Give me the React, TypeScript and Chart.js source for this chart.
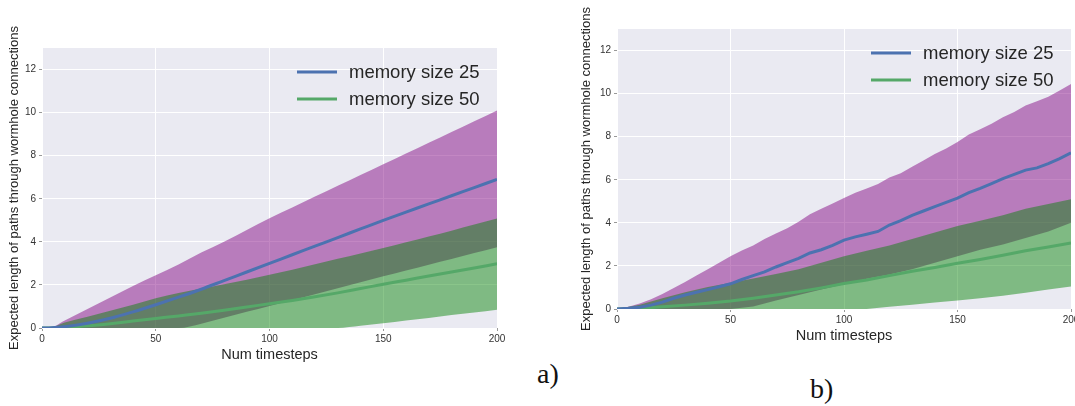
import React, { useEffect, useRef } from 'react';
import { Chart, registerables } from 'chart.js';

Chart.register(...registerables);

// ---------- shared labels ----------
const seriesNames = ['memory size 25', 'memory size 50'];
const xTitle = 'Num timesteps';
const yTitle = 'Expected length of paths through wormhole connections';
const panelLabels = ['a)', 'b)'];

// ---------- panel a ----------
const xA = [0, 3, 10, 20, 30, 40, 50, 60, 70, 80, 90, 100, 110, 120, 130, 140, 150, 160, 170, 180, 190, 200];
const a25Mean = [0, 0, 0.06, 0.22, 0.45, 0.75, 1.08, 1.43, 1.8, 2.2, 2.6, 3.0, 3.4, 3.8, 4.2, 4.6, 5.0, 5.38, 5.76, 6.14, 6.52, 6.9];
const a25Upper = [0, 0, 0.35, 0.88, 1.42, 1.95, 2.45, 2.95, 3.5, 4.0, 4.55, 5.1, 5.6, 6.1, 6.6, 7.1, 7.6, 8.1, 8.6, 9.1, 9.6, 10.1];
const a25Lower = [0, 0, 0, 0, 0, 0, 0, 0, 0.2, 0.48, 0.75, 1.02, 1.3, 1.57, 1.85, 2.12, 2.4, 2.67, 2.94, 3.2, 3.48, 3.75];
const a50Mean = [0, 0, 0.03, 0.1, 0.2, 0.32, 0.44, 0.56, 0.68, 0.82, 0.97, 1.13, 1.28, 1.45, 1.63, 1.83, 2.03, 2.22, 2.41, 2.6, 2.79, 2.98];
const a50Upper = [0, 0, 0.25, 0.52, 0.8, 1.08, 1.38, 1.62, 1.83, 2.03, 2.24, 2.47, 2.71, 2.96, 3.21, 3.46, 3.71, 3.98, 4.25, 4.52, 4.8, 5.08];
const a50Lower = [0, 0, 0, 0, 0, 0, 0, 0, 0, 0, 0, 0, 0, 0, 0, 0.1, 0.22, 0.35, 0.47, 0.6, 0.72, 0.85];

// ---------- panel b ----------
const xB5 = [0, 5, 10, 15, 20, 25, 30, 35, 40, 45, 50, 55, 60, 65, 70, 75, 80, 85, 90, 95, 100, 105, 110, 115, 120, 125, 130, 135, 140, 145, 150, 155, 160, 165, 170, 175, 180, 185, 190, 195, 200];
const xB10 = [0, 10, 20, 30, 40, 50, 60, 70, 80, 90, 100, 110, 120, 130, 140, 150, 160, 170, 180, 190, 200];
const b25Mean = [0, 0.03, 0.08, 0.18, 0.32, 0.5, 0.65, 0.78, 0.9, 1.03, 1.17, 1.37, 1.55, 1.72, 1.95, 2.15, 2.35, 2.6, 2.75, 2.95, 3.2, 3.35, 3.47, 3.6, 3.9, 4.1, 4.35, 4.55, 4.75, 4.95, 5.15, 5.4, 5.6, 5.82, 6.05, 6.25, 6.45, 6.55, 6.75, 6.98, 7.25];
const b25Upper = [0, 0.1, 0.25, 0.45, 0.7, 0.98, 1.25, 1.55, 1.85, 2.15, 2.45, 2.72, 2.95, 3.25, 3.5, 3.75, 4.05, 4.4, 4.65, 4.9, 5.15, 5.4, 5.6, 5.8, 6.1, 6.3, 6.6, 6.9, 7.2, 7.45, 7.75, 8.1, 8.35, 8.6, 8.9, 9.15, 9.45, 9.65, 9.85, 10.15, 10.45];
const b25Lower = [0, 0, 0, 0, 0, 0, 0.12, 0.4, 0.65, 0.9, 1.15, 1.4, 1.6, 1.85, 2.15, 2.45, 2.75, 3.0, 3.3, 3.6, 4.0];
const b50Mean = [0, 0.03, 0.1, 0.18, 0.27, 0.37, 0.5, 0.65, 0.8, 0.98, 1.18, 1.35, 1.55, 1.75, 1.93, 2.12, 2.3, 2.5, 2.7, 2.88, 3.07];
const b50Upper = [0, 0.2, 0.5, 0.78, 1.02, 1.22, 1.42, 1.62, 1.85, 2.15, 2.45, 2.7, 2.95, 3.25, 3.55, 3.85, 4.1, 4.35, 4.65, 4.88, 5.1];
const b50Lower = [0, 0, 0, 0, 0, 0, 0, 0, 0, 0, 0, 0, 0.1, 0.2, 0.3, 0.4, 0.5, 0.62, 0.75, 0.9, 1.05];

// ---------- styles ----------
const BLUE = '#4C72B0';
const GREEN = '#55A868';
const PURPLE_FILL = 'rgba(128,0,128,0.47)';
const GREEN_FILL = 'rgba(0,128,0,0.46)';
const BG = '#EAEAF2';
const FONT = "'Liberation Sans', Arial, sans-serif";

const pts = (xs: number[], ys: number[]) => xs.map((x, i) => ({ x, y: ys[i] }));

type P = { x: number; y: number }[];
type PanelProps = {
  left: number;
  width: number;
  height: number;
  padTop: number;
  padRight: number;
  yAxisWidth: number;
  smooth: boolean;
  m25: P;
  u25: P;
  l25: P;
  m50: P;
  u50: P;
  l50: P;
};

const bgPlugin = {
  id: 'bgPlugin',
  beforeDraw(chart: any) {
    const { ctx, chartArea } = chart;
    ctx.save();
    ctx.fillStyle = BG;
    ctx.fillRect(chartArea.left, chartArea.top, chartArea.right - chartArea.left, chartArea.bottom - chartArea.top);
    ctx.restore();
  },
};

const legendPlugin = {
  id: 'insideLegend',
  afterDatasetsDraw(chart: any) {
    const { ctx, chartArea } = chart;
    const colors = [BLUE, GREEN];
    ctx.save();
    seriesNames.forEach((name, i) => {
      const y = chartArea.top + 24 + i * 27;
      ctx.strokeStyle = colors[i];
      ctx.lineWidth = 3;
      ctx.beginPath();
      ctx.moveTo(chartArea.right - 200, y);
      ctx.lineTo(chartArea.right - 160, y);
      ctx.stroke();
      ctx.fillStyle = '#262626';
      ctx.font = `18.5px ${FONT}`;
      ctx.textBaseline = 'middle';
      ctx.textAlign = 'left';
      ctx.fillText(name, chartArea.right - 148, y + 1);
    });
    ctx.restore();
  },
};

function Panel(p: PanelProps) {
  const ref = useRef<HTMLCanvasElement | null>(null);
  useEffect(() => {
    if (!ref.current) return;
    const interp = p.smooth ? 'monotone' : 'default';
    const lineDs = (label: string, data: any, color: string) => ({
      label,
      data,
      borderColor: color,
      borderWidth: 3,
      pointRadius: 0,
      fill: false,
      cubicInterpolationMode: interp,
      tension: 0,
    });
    const bandDs = (data: any, fill: any, color: string) => ({
      label: '',
      data,
      borderWidth: 0,
      borderColor: 'rgba(0,0,0,0)',
      backgroundColor: color,
      pointRadius: 0,
      fill,
      cubicInterpolationMode: interp,
      tension: 0,
    });
    const chart = new Chart(ref.current, {
      type: 'line',
      data: {
        datasets: [
          lineDs(seriesNames[0], p.m25, BLUE),
          lineDs(seriesNames[1], p.m50, GREEN),
          bandDs(p.u50, '+1', GREEN_FILL),
          bandDs(p.l50, false, GREEN_FILL),
          bandDs(p.u25, '+1', PURPLE_FILL),
          bandDs(p.l25, false, PURPLE_FILL),
        ],
      },
      options: {
        animation: false,
        responsive: false,
        maintainAspectRatio: false,
        layout: { padding: { left: 0, top: p.padTop, right: p.padRight, bottom: 0 } },
        plugins: {
          legend: { display: false },
          tooltip: { enabled: false },
        },
        scales: {
          x: {
            type: 'linear',
            min: 0,
            max: 200,
            ticks: {
              stepSize: 50,
              includeBounds: false,
              maxRotation: 0,
              padding: 2,
              color: '#333',
              font: { size: 10, family: FONT },
            },
            grid: { color: '#ffffff', lineWidth: 1, tickColor: '#999', tickLength: 3 },
            border: { display: false },
            title: {
              display: true,
              text: xTitle,
              color: '#262626',
              font: { size: 14.5, family: FONT },
              padding: { top: 0, bottom: 6 },
            },
            afterFit: (s: any) => {
              s.height = 42;
              s.paddingLeft = 0;
              s.paddingRight = 0;
            },
          },
          y: {
            type: 'linear',
            min: 0,
            max: 13,
            ticks: {
              stepSize: 2,
              includeBounds: false,
              padding: 3,
              color: '#333',
              font: { size: 10, family: FONT },
            },
            grid: { color: '#ffffff', lineWidth: 1, tickColor: '#999', tickLength: 3 },
            border: { display: false },
            title: {
              display: true,
              text: yTitle,
              color: '#262626',
              font: { size: 13, family: FONT },
              padding: { top: 7, bottom: 0 },
            },
            afterFit: (s: any) => {
              s.width = p.yAxisWidth;
              s.paddingTop = 0;
              s.paddingBottom = 0;
            },
          },
        },
      },
      plugins: [bgPlugin, legendPlugin],
    } as any);
    return () => chart.destroy();
  }, []);
  return (
    <canvas
      ref={ref}
      width={p.width}
      height={p.height}
      style={{ position: 'absolute', left: p.left, top: 0, width: p.width, height: p.height }}
    />
  );
}

export default function App() {
  return (
    <div style={{ position: 'fixed', left: 0, top: 0, width: 1075, height: 406, background: '#fff', overflow: 'hidden' }}>
      <Panel
        left={0}
        width={510}
        height={370}
        padTop={48}
        padRight={13}
        yAxisWidth={42}
        smooth={true}
        m25={pts(xA, a25Mean)}
        u25={pts(xA, a25Upper)}
        l25={pts(xA, a25Lower)}
        m50={pts(xA, a50Mean)}
        u50={pts(xA, a50Upper)}
        l50={pts(xA, a50Lower)}
      />
      <Panel
        left={572}
        width={503}
        height={351}
        padTop={29}
        padRight={4}
        yAxisWidth={45}
        smooth={false}
        m25={pts(xB5, b25Mean)}
        u25={pts(xB5, b25Upper)}
        l25={pts(xB10, b25Lower)}
        m50={pts(xB10, b50Mean)}
        u50={pts(xB10, b50Upper)}
        l50={pts(xB10, b50Lower)}
      />
      <div style={{ position: 'absolute', left: 537, top: 360, font: "28px 'Liberation Serif', serif", lineHeight: '28px', color: '#111' }}>
        {panelLabels[0]}
      </div>
      <div style={{ position: 'absolute', left: 810, top: 375, font: "28px 'Liberation Serif', serif", lineHeight: '28px', color: '#111' }}>
        {panelLabels[1]}
      </div>
    </div>
  );
}
